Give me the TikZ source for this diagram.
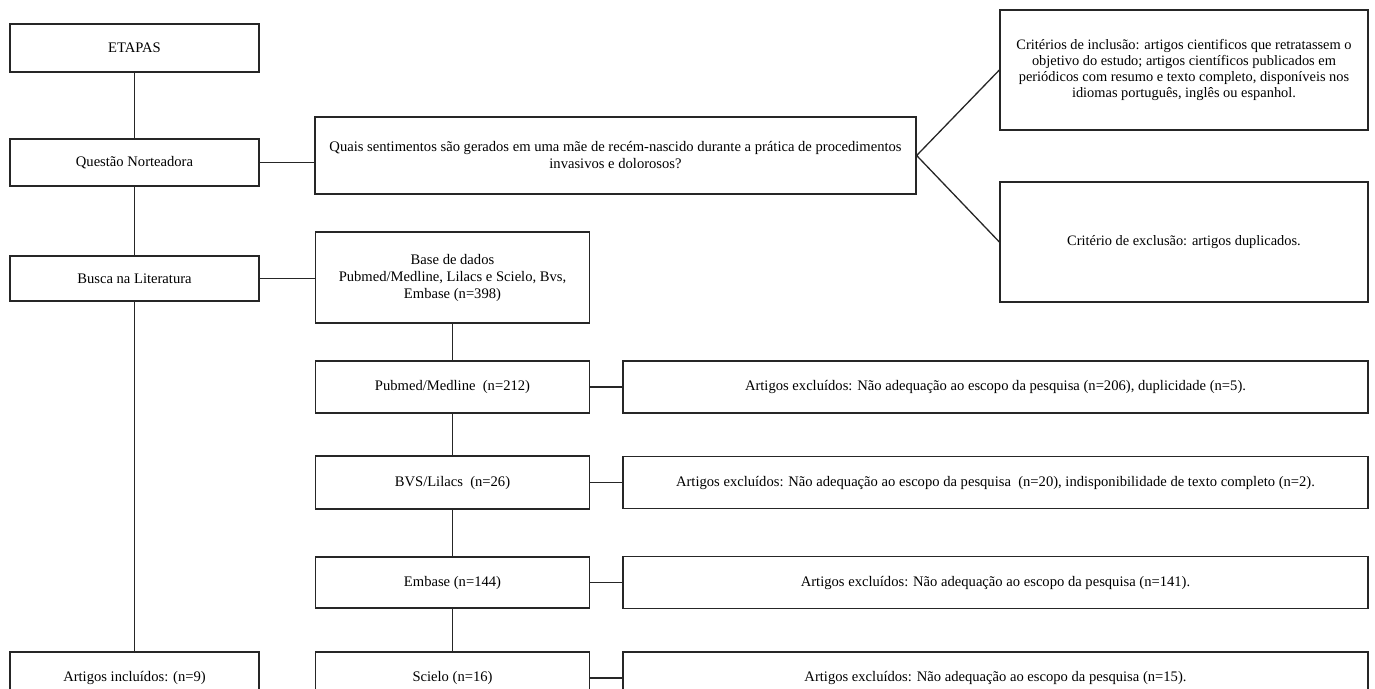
\documentclass[tikz,border=0pt]{standalone}
\usepackage{fontspec}
\setmainfont{Liberation Serif}
\begin{document}
\begin{tikzpicture}[x=1pt, y=-1pt,
    box/.style={draw=black!85, line width=1.3pt, inner sep=0pt, align=center,
      font=\fontsize{14.6}{17}\selectfont},
    stage/.style={box, minimum width=249pt},
    fonte/.style={box, minimum width=274pt},
    excl/.style={box, minimum width=745pt, minimum height=52pt},
    crit/.style={box, minimum width=368pt, minimum height=120pt,
      font=\fontsize{14.4}{16}\selectfont},
    link/.style={draw=black!85, line width=1.3pt}]
  \useasboundingbox (0,0) rectangle (1375,688);
  % \draw[help lines, gray!50, very thin] (0,0) grid[step=50pt] (1375,688);

  % etapas
  \node[stage, minimum height=48pt] (etapas) at (134.5,48) {ETAPAS};
  \node[stage, minimum height=47pt] (questao) at (134.5,162.5) {Questão Norteadora};
  \node[stage, minimum height=45pt] (busca) at (134.5,278.5) {Busca na Literatura};
  \node[stage, minimum height=52pt] (incluidos) at (134.5,678) {Artigos incluídos: (n=9)};
  \draw[link] (etapas) -- (questao);
  \draw[link] (questao) -- (busca);
  \draw[link] (busca) -- (incluidos);

  % pergunta e criterios
  \node[box, minimum width=601pt, minimum height=77pt] (pergunta) at (615.5,155.5)
    {Quais sentimentos são gerados em uma mãe de recém-nascido durante a prática de procedimentos\\ invasivos e dolorosos?};
  \node[crit] (inclusao) at (1184,70)
    {Critérios de inclusão: artigos cientificos que retratassem o\\ objetivo do estudo; artigos científicos publicados em\\ periódicos com resumo e texto completo, disponíveis nos\\ idiomas português, inglês ou espanhol.};
  \node[crit] (exclusao) at (1184,242) {Critério de exclusão: artigos duplicados.};
  \draw[link] (questao.east) -- (questao.east -| pergunta.west);
  \draw[link] (inclusao.west) -- (pergunta.east) -- (exclusao.west);

  % bases de dados
  \node[fonte, minimum height=91pt] (base) at (452.5,277.5)
    {Base de dados\\ Pubmed/Medline, Lilacs e Scielo, Bvs,\\ Embase (n=398)};
  \node[fonte, minimum height=52pt] (pubmed) at (452.5,387) {Pubmed/Medline\ \ (n=212)};
  \node[fonte, minimum height=53pt] (bvs) at (452.5,482.5) {BVS/Lilacs\ \ (n=26)};
  \node[fonte, minimum height=51pt] (embase) at (452.5,582.5) {Embase (n=144)};
  \node[fonte, minimum height=52pt] (scielo) at (452.5,678) {Scielo (n=16)};
  \draw[link] (busca.east) -- (busca.east -| base.west);
  \draw[link] (base) -- (pubmed);
  \draw[link] (pubmed) -- (bvs);
  \draw[link] (bvs) -- (embase);
  \draw[link] (embase) -- (scielo);

  % excluidos
  \node[excl] (exc1) at (995.5,387)
    {Artigos excluídos: Não adequação ao escopo da pesquisa (n=206), duplicidade (n=5).};
  \node[excl] (exc2) at (995.5,482.5)
    {Artigos excluídos: Não adequação ao escopo da pesquisa\ \ (n=20), indisponibilidade de texto completo (n=2).};
  \node[excl] (exc3) at (995.5,582.5)
    {Artigos excluídos: Não adequação ao escopo da pesquisa (n=141).};
  \node[excl] (exc4) at (995.5,678)
    {Artigos excluídos: Não adequação ao escopo da pesquisa (n=15).};
  \draw[link] (pubmed) -- (exc1);
  \draw[link] (bvs) -- (exc2);
  \draw[link] (embase) -- (exc3);
  \draw[link] (scielo) -- (exc4);
\end{tikzpicture}
\end{document}
